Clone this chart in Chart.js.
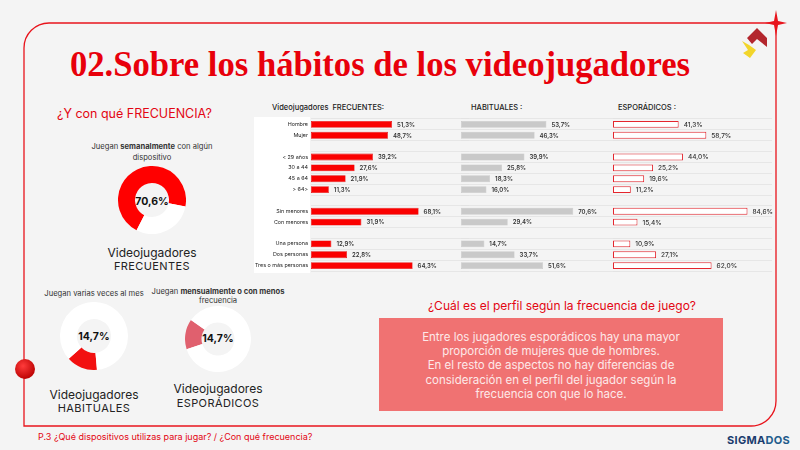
<!DOCTYPE html>
<html>
<head>
<meta charset="utf-8">
<script src="https://cdn.jsdelivr.net/npm/chart.js@4.4.1/dist/chart.umd.min.js"></script>
<style>
  body { margin: 0; background: #f4f4f4; }
  #page { position: relative; width: 800px; height: 450px; overflow: hidden; font-family: Inter, sans-serif; }
  #page svg { position: absolute; left: 0; top: 0; }
  canvas { position: absolute; }
</style>
</head>
<body>
<div id="page">
  <svg width="800" height="450" font-family="Inter, sans-serif">
    <defs>
      <radialGradient id="dot" cx="0.4" cy="0.35" r="0.7">
        <stop offset="0" stop-color="#ff3b3b"/>
        <stop offset="1" stop-color="#b80000"/>
      </radialGradient>
    </defs>
    <!-- frame -->
    <path d="M24 426 V48 A25 25 0 0 1 49 23 H776 V401 A25 25 0 0 1 751 426 Z" fill="none" stroke="#e8141c" stroke-width="1.3"/>
    <path d="M776 10 L778 21 L787 23 L778 25 L776 36 L774 25 L765 23 L774 21 Z" fill="#e8141c"/>
    <circle cx="25" cy="369" r="10" fill="url(#dot)"/>
    <!-- logo -->
    <polygon points="747,38 757,28 767,38 767,47 757,39 752,44" fill="#b3262d"/>
    <polygon points="742,41 749,45 756,50 750,58 743,53 748,50" fill="#f2d52a"/>

    <text x="70" y="76" font-family="Liberation Serif, serif" font-weight="bold" font-size="36" textLength="620" lengthAdjust="spacingAndGlyphs" fill="#e8000b">02.Sobre los hábitos de los videojugadores</text>

    <text x="57" y="117.5" font-size="12.5" fill="#e30613">¿Y con qué FRECUENCIA?</text>

    <!-- frecuentes donut texts -->
    <text x="152" y="149" font-size="7.6" fill="#333" text-anchor="middle">Juegan <tspan font-weight="bold">semanalmente</tspan> con algún</text>
    <text x="152" y="160" font-size="7.6" fill="#333" text-anchor="middle">dispositivo</text>
    <text x="152" y="204.5" font-size="10.5" font-weight="bold" fill="#111" text-anchor="middle">70,6%</text>
    <text x="152" y="257" font-size="12" fill="#222" text-anchor="middle">Videojugadores</text>
    <text x="152" y="270" font-size="11" fill="#222" text-anchor="middle" letter-spacing="0.4">FRECUENTES</text>

    <!-- habituales donut texts -->
    <text x="94" y="295.5" font-size="7.6" fill="#333" text-anchor="middle">Juegan varias veces al mes</text>
    <text x="94" y="339.5" font-size="10.5" font-weight="bold" fill="#111" text-anchor="middle">14,7%</text>
    <text x="94" y="399" font-size="12" fill="#222" text-anchor="middle">Videojugadores</text>
    <text x="94" y="411.7" font-size="11" fill="#222" text-anchor="middle" letter-spacing="0.4">HABITUALES</text>

    <!-- esporadicos donut texts -->
    <text x="218" y="293.5" font-size="7.6" fill="#333" text-anchor="middle">Juegan <tspan font-weight="bold">mensualmente o con menos</tspan></text>
    <text x="218" y="303" font-size="7.6" fill="#333" text-anchor="middle">frecuencia</text>
    <text x="218" y="341.5" font-size="10.5" font-weight="bold" fill="#111" text-anchor="middle">14,7%</text>
    <text x="218" y="393" font-size="12" fill="#222" text-anchor="middle">Videojugadores</text>
    <text x="218" y="407" font-size="11" fill="#222" text-anchor="middle" letter-spacing="0.4">ESPORÁDICOS</text>

    <!-- bar panel headers -->
    <rect x="254" y="117" width="56" height="156" fill="#ffffff"/>
    <text x="272" y="110.3" font-size="7.5" font-weight="500" fill="#222">Videojugadores&#160; FRECUENTES:</text>
    <text x="471" y="110.3" font-size="7.5" font-weight="500" fill="#222">HABITUALES :</text>
    <text x="618" y="110.3" font-size="7.5" font-weight="500" fill="#222">ESPORÁDICOS :</text>

    <!-- profile box -->
    <text x="562" y="310" font-size="12" fill="#e30613" text-anchor="middle">¿Cuál es el perfil según la frecuencia de juego?</text>
    <rect x="379" y="318" width="344" height="93" fill="#f07272"/>
    <g font-size="11.5" fill="#fde9e9" text-anchor="middle">
      <text x="551" y="341">Entre los jugadores esporádicos hay una mayor</text>
      <text x="551" y="355.2">proporción de mujeres que de hombres.</text>
      <text x="551" y="369.4">En el resto de aspectos no hay diferencias de</text>
      <text x="551" y="383.6">consideración en el perfil del jugador según la</text>
      <text x="551" y="397.8">frecuencia con que lo hace.</text>
    </g>

    <text x="38" y="440" font-size="9" fill="#e30613">P.3 ¿Qué dispositivos utilizas para jugar? / ¿Con qué frecuencia?</text>
    <text x="727" y="444" font-size="11" font-weight="bold" letter-spacing="0.3" fill="#1b3c6e">SIGMA<tspan fill="#1f5c8c">DOS</tspan></text>
  </svg>

  <canvas id="barFrec" width="216" height="155" style="left:254px;top:118px"></canvas>
  <canvas id="barHab" width="180" height="155" style="left:461px;top:118px"></canvas>
  <canvas id="barEsp" width="180" height="155" style="left:613px;top:118px"></canvas>

  <canvas id="donutFrec" width="68" height="68" style="left:118px;top:166px"></canvas>
  <canvas id="donutHab" width="68" height="68" style="left:60px;top:302px"></canvas>
  <canvas id="donutEsp" width="66" height="66" style="left:185px;top:306px"></canvas>
</div>

<script>
// rows of the profile table; '' rows are the blank spacers between groups
const categories = ['Hombre', 'Mujer', '', '< 29 años', '30 a 44', '45 a 64', '> 64>', '',
  'Sin menores', 'Con menores', '', 'Una persona', 'Dos personas', 'Tres o más personas'];
const frecuentes = [51.3, 48.7, null, 39.2, 27.6, 21.9, 11.3, null, 68.1, 31.9, null, 12.9, 22.8, 64.3];
const habituales = [53.7, 46.3, null, 39.9, 25.8, 18.3, 16.0, null, 70.6, 29.4, null, 14.7, 33.7, 51.6];
const esporadicos = [41.3, 58.7, null, 44.0, 25.2, 19.6, 11.2, null, 84.6, 15.4, null, 10.9, 27.1, 62.0];

// share of players in each frequency group (donuts)
const shareFrecuentes = [70.6, 29.4];
const shareHabituales = [14.7, 85.3];
const shareEsporadicos = [14.7, 85.3];

const fmt = (v) => v.toFixed(1).replace('.', ',') + '%';

const valueLabels = {
  id: 'valueLabels',
  afterDatasetsDraw(chart, args, opts) {
    const ctx = chart.ctx;
    const ds = chart.data.datasets[0];
    ctx.save();
    ctx.font = opts.font;
    ctx.fillStyle = '#333';
    ctx.textBaseline = 'middle';
    chart.getDatasetMeta(0).data.forEach((bar, i) => {
      const v = ds.data[i];
      if (v == null) return;
      ctx.fillText(fmt(v), bar.x + 5, bar.y + 0.5);
    });
    ctx.restore();
  }
};

function barChart(id, values, o) {
  return new Chart(document.getElementById(id), {
    type: 'bar',
    data: {
      labels: categories,
      datasets: [{
        data: values,
        backgroundColor: o.fill,
        borderColor: o.border,
        borderWidth: o.borderWidth,
        borderSkipped: false,
        categoryPercentage: 1,
        barPercentage: 0.63
      }]
    },
    plugins: [valueLabels],
    options: {
      indexAxis: 'y',
      responsive: false,
      animation: false,
      layout: { padding: { top: 1, bottom: 2, left: 0, right: o.padRight } },
      plugins: {
        legend: { display: false },
        tooltip: { enabled: false },
        valueLabels: { font: o.labelFont }
      },
      scales: {
        x: { min: 0, max: 100, display: false },
        y: {
          grid: { color: '#e2e2e2', lineWidth: 0.8, offset: true, drawTicks: false },
          border: { display: false },
          ticks: { display: o.showLabels, color: '#222', font: { family: 'Inter', size: 5.4 }, padding: 3 },
          afterFit(scale) {
            scale.width = o.labelWidth;
            scale.paddingTop = 0;
            scale.paddingBottom = 0;
          }
        }
      }
    }
  });
}

barChart('barFrec', frecuentes, {
  fill: '#fa0000', border: '#e00000', borderWidth: 0.6, showLabels: true, labelWidth: 57, padRight: 1,
  labelFont: '600 6px Inter'
});
barChart('barHab', habituales, {
  fill: '#c9c9c9', border: '#c4c4c4', borderWidth: 0.5, showLabels: false, labelWidth: 0, padRight: 21,
  labelFont: '600 6px Inter'
});
barChart('barEsp', esporadicos, {
  fill: '#ffffff', border: '#e4262e', borderWidth: 1, showLabels: false, labelWidth: 0, padRight: 21,
  labelFont: '500 6.5px Inter'
});

function donut(id, values, colors, rotation) {
  return new Chart(document.getElementById(id), {
    type: 'doughnut',
    data: {
      labels: ['grupo', 'resto'],
      datasets: [{ data: values, backgroundColor: colors, borderWidth: 0 }]
    },
    options: {
      responsive: false,
      animation: false,
      cutout: '50%',
      rotation,
      layout: { padding: 0 },
      plugins: { legend: { display: false }, tooltip: { enabled: false } }
    }
  });
}

donut('donutFrec', shareFrecuentes, ['#ff0000', '#ffffff'], 207);
donut('donutHab', shareHabituales, ['#f21010', '#ffffff'], 175);
donut('donutEsp', shareEsporadicos, ['#e0606e', '#ffffff'], 252);
</script>
</body>
</html>
